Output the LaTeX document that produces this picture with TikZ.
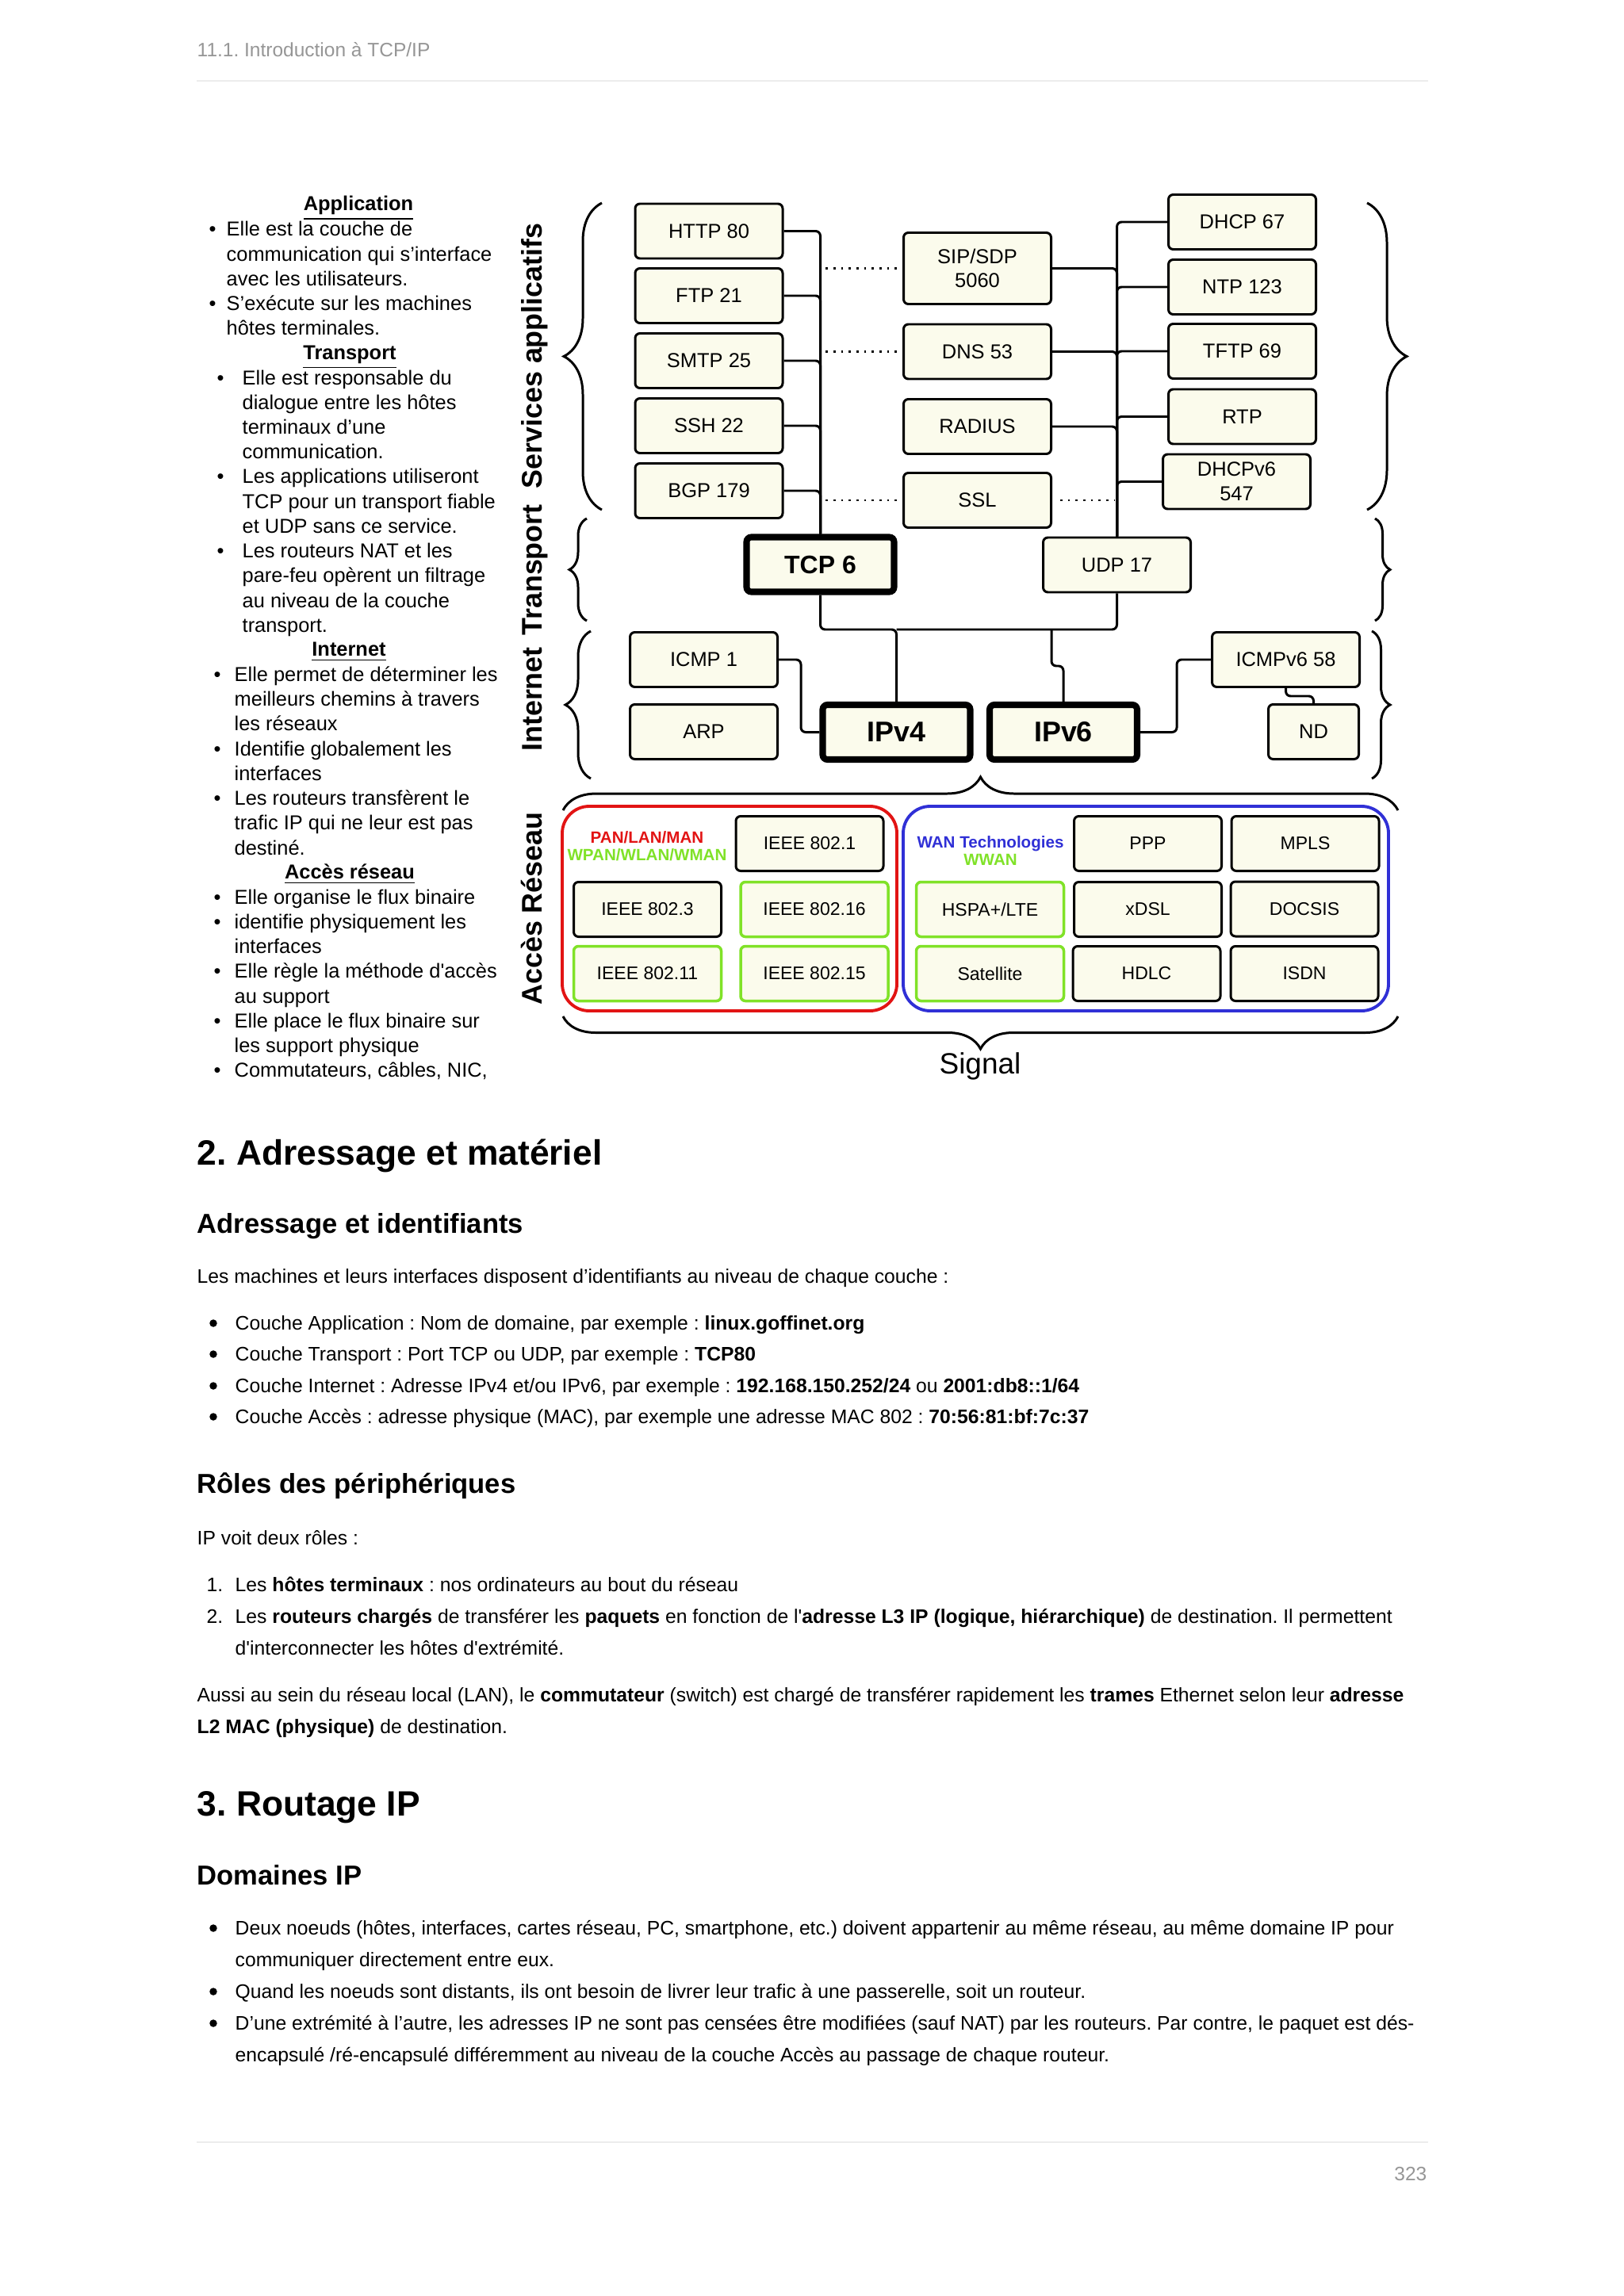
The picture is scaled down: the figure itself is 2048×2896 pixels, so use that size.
\documentclass[tikz,border=0pt]{standalone}
\usepackage{fontspec}
\setmainfont{Liberation Sans}
\usetikzlibrary{decorations.pathreplacing}

\definecolor{cream}{RGB}{251,251,236}
\definecolor{lime}{RGB}{128,226,40}
\definecolor{lanred}{RGB}{226,20,20}
\definecolor{wanblue}{RGB}{48,48,214}
\definecolor{hdrgray}{RGB}{150,150,150}
\definecolor{rulegray}{RGB}{236,236,236}

\newcommand{\colfont}{\fontsize{7.23}{8.88}\selectfont}
\newcommand{\bodyfont}{\fontsize{7.03}{11.27}\selectfont}
\newcommand{\itembul}[1]{\makebox[#1][l]{\textbullet}}
\newcommand{\itemind}[1]{\hspace*{#1}}
\frenchspacing

\begin{document}
\begin{tikzpicture}
  [x=0.1mm, y=-0.1mm,
   box/.style={draw, fill=cream, rounded corners=0.6mm, line width=0.85pt, minimum width=18.6mm, minimum height=6.9mm, inner sep=0pt, align=center, font=\fontsize{7.25}{8.7}\selectfont},
   thickbox/.style={box, line width=2.3pt, font=\fontsize{9.1}{10}\selectfont\bfseries},
   ipbox/.style={thickbox, font=\fontsize{10.2}{11}\selectfont\bfseries},
   netbox/.style={box, font=\fontsize{6.55}{8}\selectfont},
   gbox/.style={netbox, draw=lime, line width=1pt},
   wire/.style={line width=0.85pt, rounded corners=0.6mm},
   dots/.style={line width=0.75pt, dotted},
   brc/.style={decorate, decoration={brace, amplitude=#1}, line width=0.85pt},
   lay/.style={rotate=90, anchor=base, inner sep=0pt, font=\fontsize{10.2}{11}\selectfont\bfseries},
   col/.style={anchor=north west, inner sep=0pt, align=left, font=\colfont},
   colhd/.style={anchor=base, inner sep=0pt, font=\colfont\bfseries},
   txt/.style={anchor=base west, inner sep=0pt, font=\bodyfont},
   para/.style={anchor=north west, inner sep=0pt, align=left, font=\bodyfont},
   bdot/.style={circle, fill, inner sep=0pt, minimum size=0.95mm},
   sec/.style={anchor=base west, inner sep=0pt, font=\fontsize{12.63}{15}\selectfont\bfseries},
   subsec/.style={sec, font=\fontsize{9.84}{12}\selectfont\bfseries},
   pghead/.style={anchor=base west, inner sep=0pt, text=hdrgray, font=\fontsize{6.97}{8}\selectfont},
   pgrule/.style={rulegray, line width=0.75pt}]

  \useasboundingbox (0,0) rectangle (2048,2896);
  \fill[white] (0,0) rectangle (2048,2896);

  % page header
  \node[pghead] (hdr) at (248,72) {11.1. Introduction à TCP/IP};
  \draw[pgrule] (248,102) -- (1801,102);

  % left column
  \node[colhd] (appHd) at (452,266) {\underline{Application}};
  \node[col] (appTxt) at (263,275.3) {\strut\itembul{2.2mm}Elle est la couche de\\
    \itemind{2.2mm}communication qui s’interface\\
    \itemind{2.2mm}avec les utilisateurs.\\
    \itembul{2.2mm}S’exécute sur les machines\\
    \itemind{2.2mm}hôtes terminales.};
  \node[colhd] (trHd) at (441,453.2) {\underline{Transport}};
  \node[col] (trTxt) at (273,462.6) {\strut\itembul{3.2mm}Elle est responsable du\\
    \itemind{3.2mm}dialogue entre les hôtes\\
    \itemind{3.2mm}terminaux d’une\\
    \itemind{3.2mm}communication.\\
    \itembul{3.2mm}Les applications utiliseront\\
    \itemind{3.2mm}TCP pour un transport fiable\\
    \itemind{3.2mm}et UDP sans ce service.\\
    \itembul{3.2mm}Les routeurs NAT et les\\
    \itemind{3.2mm}pare-feu opèrent un filtrage\\
    \itemind{3.2mm}au niveau de la couche\\
    \itemind{3.2mm}transport.};
  \node[colhd] (inHd) at (440,827.6) {\underline{Internet}};
  \node[col] (inTxt) at (269,837) {\strut\itembul{2.6mm}Elle permet de déterminer les\\
    \itemind{2.6mm}meilleurs chemins à travers\\
    \itemind{2.6mm}les réseaux\\
    \itembul{2.6mm}Identifie globalement les\\
    \itemind{2.6mm}interfaces\\
    \itembul{2.6mm}Les routeurs transfèrent le\\
    \itemind{2.6mm}trafic IP qui ne leur est pas\\
    \itemind{2.6mm}destiné.};
  \node[colhd] (acHd) at (441,1108.4) {\underline{Accès réseau}};
  \node[col] (acTxt) at (269,1117.8) {\strut\itembul{2.6mm}Elle organise le flux binaire\\
    \itembul{2.6mm}identifie physiquement les\\
    \itemind{2.6mm}interfaces\\
    \itembul{2.6mm}Elle règle la méthode d\textquotesingle accès\\
    \itemind{2.6mm}au support\\
    \itembul{2.6mm}Elle place le flux binaire sur\\
    \itemind{2.6mm}les support physique\\
    \itembul{2.6mm}Commutateurs, câbles, NIC,};

  % layer names
  \node[lay] (lApp) at (683,449) {Services applicatifs};
  \node[lay] (lTr) at (683,719) {Transport};
  \node[lay] (lInt) at (683,882) {Internet};
  \node[lay] (lAcc) at (683,1146) {Accès Réseau};

  % braces
  \draw[brc=4.8mm] (759,643) -- (759,256);
  \draw[brc=5mm] (1724,256) -- (1724,643);
  \draw[brc=2.2mm] (740,783) -- (740,654);
  \draw[brc=1.9mm] (1734,654) -- (1734,783);
  \draw[brc=3.2mm] (745,982) -- (745,796);
  \draw[brc=2.3mm] (1730,796) -- (1730,982);
  \draw[brc=4.2mm] (710,1022) -- (1763,1022);
  \draw[brc=4.1mm] (1763,1282) -- (710,1282);
  \node[font=\fontsize{10.53}{12}\selectfont, inner sep=0pt] (signal) at (1236,1345) {Signal};

  % services
  \node[box] (http) at (894,291.5) {HTTP 80};
  \node[box] (ftp) at (894,373) {FTP 21};
  \node[box] (smtp) at (894,455) {SMTP 25};
  \node[box] (ssh) at (894,537) {SSH 22};
  \node[box] (bgp) at (894,619) {BGP 179};
  \node[box, minimum height=9mm] (sip) at (1232.5,338.5) {SIP/SDP\\5060};
  \node[box] (dns) at (1232.5,443.5) {DNS 53};
  \node[box] (radius) at (1232.5,538) {RADIUS};
  \node[box] (ssl) at (1232.5,631) {SSL};
  \node[box] (dhcp) at (1566.5,280) {DHCP 67};
  \node[box] (ntp) at (1566.5,362) {NTP 123};
  \node[box] (tftp) at (1566.5,443) {TFTP 69};
  \node[box] (rtp) at (1566.5,525.5) {RTP};
  \node[box] (dhcpsix) at (1559.5,607.5) {DHCPv6\\547};

  % transport and internet
  \node[thickbox] (tcp) at (1034.5,712) {TCP 6};
  \node[box] (udp) at (1408.5,712.5) {UDP 17};
  \node[box] (icmp) at (887.5,832) {ICMP 1};
  \node[box] (arp) at (887.5,923) {ARP};
  \node[ipbox] (ipv4) at (1130.5,923.5) {IPv4};
  \node[ipbox] (ipv6) at (1341,923.5) {IPv6};
  \node[box] (icmpsix) at (1621.5,832) {ICMPv6 58};
  \node[box, minimum width=11.4mm] (nd) at (1656.5,923) {ND};

  \foreach \n in {http,ftp,smtp,ssh,bgp}
    \draw[wire] (\n.east) -| (tcp.north);
  \foreach \n in {sip,dns,radius}
    \draw[wire] (\n.east) -| (udp.north);
  \foreach \n in {dhcp,ntp,tftp,rtp,dhcpsix}
    \draw[wire] (\n.west) -| (udp.north);
  \foreach \n in {sip,dns,ssl}
    \draw[dots, shorten <=0.7mm, shorten >=0.5mm] (\n.west) -- (\n.west -| tcp.north);
  \draw[dots, shorten <=1mm, shorten >=0.35mm] (ssl.east) -- (ssl.east -| udp.north);

  \coordinate (ipjoin) at (1130.5,794);
  \coordinate (sixjog) at (1326,840);
  \coordinate (sixbus) at (1326,794);
  \draw[wire] (tcp.south) |- (ipjoin) -- (ipv4.north);
  \draw[wire] (udp.south) |- (ipjoin);
  \draw[wire] (ipv6.north) |- (sixjog) -- (sixbus);
  \draw[wire] (icmp.east) -- ++(28,0) |- (ipv4.west);
  \draw[wire] (ipv6.east) -- ++(46,0) |- (icmpsix.west);
  \draw[wire] (icmpsix.south) -- ++(0,10) -| (nd.north);

  % network access
  \draw[lanred, line width=1.1pt, rounded corners=3.4mm] (709,1017) rectangle (1131,1275);
  \draw[wanblue, line width=1.1pt, rounded corners=3.4mm] (1139,1017) rectangle (1751,1275);
  \node[align=center, inner sep=0pt, font=\fontsize{5.86}{6.26}\selectfont\bfseries] (lanlbl) at (816,1067)
    {\textcolor{lanred}{PAN/LAN/MAN}\\\textcolor{lime}{WPAN/WLAN/WMAN}};
  \node[align=center, inner sep=0pt, font=\fontsize{5.86}{6.26}\selectfont\bfseries] (wanlbl) at (1249,1073)
    {\textcolor{wanblue}{WAN Technologies}\\\textcolor{lime}{WWAN}};
  \node[netbox] (ieeeone) at (1021,1064) {IEEE 802.1};
  \node[netbox] (ieeethree) at (816.5,1147) {IEEE 802.3};
  \node[gbox] (ieeesixteen) at (1027,1147) {IEEE 802.16};
  \node[gbox] (ieeeeleven) at (816.5,1228) {IEEE 802.11};
  \node[gbox] (ieeefifteen) at (1027,1228) {IEEE 802.15};
  \node[gbox] (hspa) at (1248.5,1147) {HSPA+/LTE};
  \node[gbox] (sat) at (1248.5,1228) {Satellite};
  \node[netbox] (ppp) at (1447.5,1064) {PPP};
  \node[netbox] (mpls) at (1646,1064) {MPLS};
  \node[netbox] (xdsl) at (1447.5,1147) {xDSL};
  \node[netbox] (docsis) at (1645,1146.5) {DOCSIS};
  \node[netbox] (hdlc) at (1446,1228) {HDLC};
  \node[netbox] (isdn) at (1645,1228) {ISDN};

  % section 2
  \node[sec] (secTwo) at (248,1469) {2. Adressage et matériel};
  \node[subsec] (subIds) at (248,1555) {Adressage et identifiants};
  \node[txt] (idIntro) at (248,1618) {Les machines et leurs interfaces disposent d’identifiants au niveau de chaque couche :};
  \foreach \y in {1677,1716,1756,1795}
    \node[bdot] (dot\y) at (269,{\y-8}) {};
  \node[txt] (idApp) at (296,1677) {Couche Application : Nom de domaine, par exemple : \textbf{linux.goffinet.org}};
  \node[txt] (idTr) at (296,1716) {Couche Transport : Port TCP ou UDP, par exemple : \textbf{TCP80}};
  \node[txt] (idInt) at (296,1756) {Couche Internet : Adresse IPv4 et/ou IPv6, par exemple : \textbf{192.168.150.252/24} ou \textbf{2001:db8::1/64}};
  \node[txt] (idAcc) at (296,1795) {Couche Accès : adresse physique (MAC), par exemple une adresse MAC 802 : \textbf{70:56:81:bf:7c:37}};

  \node[subsec] (subRoles) at (248,1883) {Rôles des périphériques};
  \node[txt] (roIntro) at (248,1948) {IP voit deux rôles :};
  \node[txt, anchor=base east] (numOne) at (282,2007) {1.};
  \node[txt] (roOne) at (296,2007) {Les \textbf{hôtes terminaux} : nos ordinateurs au bout du réseau};
  \node[txt, anchor=base east] (numTwo) at (282,2047) {2.};
  \node[para] (roTwo) at (296,2019.3) {\strut Les \textbf{routeurs chargés} de transférer les \textbf{paquets} en fonction de l\textquotesingle\textbf{adresse L3 IP (logique, hiérarchique)} de destination. Il permettent\\
    d\textquotesingle interconnecter les hôtes d\textquotesingle extrémité.};
  \node[para] (roLan) at (248,2118.3) {\strut Aussi au sein du réseau local (LAN), le \textbf{commutateur} (switch) est chargé de transférer rapidement les \textbf{trames} Ethernet selon leur \textbf{adresse}\\
    \textbf{L2 MAC (physique)} de destination.};

  % section 3
  \node[sec] (secThree) at (248,2290) {3. Routage IP};
  \node[subsec] (subDom) at (248,2377) {Domaines IP};
  \foreach \y in {2440,2520,2560}
    \node[bdot] (dot\y) at (269,{\y-8}) {};
  \node[para] (domOne) at (296,2412.3) {\strut Deux noeuds (hôtes, interfaces, cartes réseau, PC, smartphone, etc.) doivent appartenir au même réseau, au même domaine IP pour\\
    communiquer directement entre eux.};
  \node[txt] (domTwo) at (296,2520) {Quand les noeuds sont distants, ils ont besoin de livrer leur trafic à une passerelle, soit un routeur.};
  \node[para] (domThree) at (296,2532.3) {\strut D’une extrémité à l’autre, les adresses IP ne sont pas censées être modifiées (sauf NAT) par les routeurs. Par contre, le paquet est dés-\\
    encapsulé /ré-encapsulé différemment au niveau de la couche Accès au passage de chaque routeur.};

  % page footer
  \draw[pgrule] (248,2702) -- (1801,2702);
  \node[pghead, anchor=base east] (pgnum) at (1800,2750) {323};
\end{tikzpicture}
\end{document}
